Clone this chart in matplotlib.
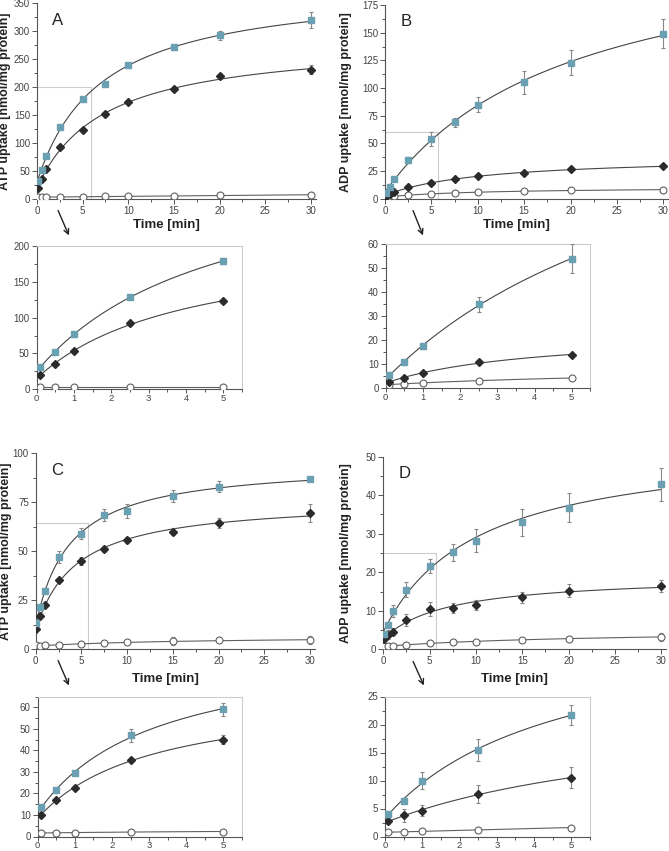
import numpy as np
import matplotlib
matplotlib.use("Agg")
import matplotlib.pyplot as plt
from matplotlib.patches import FancyArrowPatch
from matplotlib.ticker import MultipleLocator

plt.rcParams['font.family'] = ['Liberation Sans', 'DejaVu Sans']

# --- datos ---
t = [0.083, 0.5, 1, 2.5, 5, 7.5, 10, 15, 20, 30]

a_sq = [31, 52, 77, 129, 179, 206, 239, 271, 293, 320]
a_sq_err = [2, 2, 3, 3, 4, 3, 4, 5, 8, 15]
a_di = [20, 36, 53, 92, 123, 151, 173, 197, 219, 231]
a_di_err = [2, 2, 2, 3, 3, 3, 3, 3, 4, 8]
a_ci = [3, 3, 3, 3, 3, 4, 4, 5, 6, 7]
a_ci_err = [0.5] * 10

b_sq = [5.5, 11, 17.5, 35, 54, 69, 85, 105, 123, 149]
b_sq_err = [0.5, 0.5, 1, 3, 6, 4, 7, 10, 11, 13]
b_di = [2.8, 4.5, 6.2, 10.8, 14, 17.5, 20.5, 23, 26.5, 29.5]
b_di_err = [0.3, 0.5, 0.5, 0.5, 0.5, 1, 1, 1, 1, 1]
b_ci = [1.5, 2, 2.2, 3.2, 4.3, 5, 6, 7, 7.5, 8]
b_ci_err = [0.2] * 10

c_sq = [13.5, 21.5, 29.5, 47, 59, 68.5, 70.5, 78, 83, 87]
c_sq_err = [1, 1, 1, 3, 3, 3, 3.5, 3, 3, 1]
c_di = [10, 17, 22.5, 35.5, 45, 51, 55.5, 60, 64.5, 69.5]
c_di_err = [0.5, 0.5, 1, 1, 2, 1.5, 1.5, 2, 2.5, 4.5]
c_ci = [1.8, 1.5, 1.8, 2.2, 2.3, 3, 3.5, 4, 4.5, 4.5]
c_ci_err = [0.3, 0.3, 0.3, 0.3, 0.5, 0.5, 0.5, 2, 1, 2]

d_sq = [4, 6.3, 10, 15.5, 21.7, 25.2, 28.2, 33, 36.8, 42.8]
d_sq_err = [0.5, 0.5, 1.5, 2, 1.8, 2.2, 3, 3.5, 3.8, 4.3]
d_di = [2.7, 3.8, 4.6, 7.6, 10.5, 10.8, 11.5, 13.5, 15.2, 16.5]
d_di_err = [0.5, 1.2, 1, 1.6, 1.9, 1.3, 1.2, 1.5, 1.7, 1.5]
d_ci = [0.8, 0.8, 0.9, 1.2, 1.6, 1.8, 2, 2.5, 2.8, 3.2]
d_ci_err = [0.1, 0.1, 0.1, 0.2, 0.2, 0.3, 0.3, 0.4, 0.5, 1]

AZUL = '#6b9fb2'
NEGRO = '#2b2b2b'
LINEA = '#454545'
GRIS = '#888888'
W, H = 669, 851

fig = plt.figure(figsize=(W / 100, H / 100), dpi=100)


def ejes(x0, y_bot, ancho, alto):
    # posicion en pixeles de la imagen (origen arriba a la izquierda)
    return fig.add_axes([x0 / W, (H - y_bot) / H, ancho / W, alto / H])


def ajuste(x, y, tt):
    # y = a + b*t/(K+t), busqueda de K en una rejilla
    x = np.asarray(x, float)
    y = np.asarray(y, float)
    mejor = None
    for K in np.logspace(-2, 3, 500):
        A = np.column_stack([np.ones_like(x), x / (K + x)])
        coef, *_ = np.linalg.lstsq(A, y, rcond=None)
        err = np.sum((A @ coef - y) ** 2)
        if mejor is None or err < mejor[0]:
            mejor = (err, K, coef)
    _, K, coef = mejor
    return coef[0] + coef[1] * tt / (K + tt)


def series(ax, n, tmax, datos):
    tt = np.linspace(0, tmax, 300)
    for y, e, estilo in datos:
        x = t[:n]
        yy = y[:n]
        ee = e[:n]
        col_l = LINEA if estilo != 'o' else '#606060'
        ax.plot(tt, ajuste(x, yy, tt), color=col_l, lw=0.8, zorder=2)
        ax.errorbar(x, yy, yerr=ee, fmt='none', ecolor=GRIS, elinewidth=0.8,
                    capsize=1.5, capthick=0.8, zorder=3)
        if estilo == 's':
            ax.plot(x, yy, 's', color=AZUL, ms=5, mec=AZUL, zorder=4)
        elif estilo == 'D':
            ax.plot(x, yy, 'D', color=NEGRO, ms=4.2, mec=NEGRO, zorder=4)
        else:
            ax.plot(x, yy, 'o', mfc='white', mec='#606060', ms=5, mew=0.8, zorder=4)


def estilo_ejes(ax, inset=False):
    for lado in ['left', 'bottom']:
        ax.spines[lado].set_color('#555555')
        ax.spines[lado].set_linewidth(0.8)
    if inset:
        for lado in ['top', 'right']:
            ax.spines[lado].set_color('#cccccc')
            ax.spines[lado].set_linewidth(0.8)
    else:
        ax.spines['top'].set_visible(False)
        ax.spines['right'].set_visible(False)
    ax.tick_params(which='both', direction='out', colors='#555555', labelsize=7,
                   labelcolor='#444444', width=0.7, pad=1.5)
    ax.tick_params(which='major', length=3.5)
    ax.tick_params(which='minor', length=2)


def principal(ax, letra, ylab, ymax, ypaso, datos, caja, ylab_x, xlab_y):
    series(ax, 10, 30, datos)
    ax.set_xlim(0, 30.5)
    ax.set_ylim(0, ymax)
    ax.xaxis.set_major_locator(MultipleLocator(5))
    ax.xaxis.set_minor_locator(MultipleLocator(2.5))
    ax.yaxis.set_major_locator(MultipleLocator(ypaso))
    ax.yaxis.set_minor_locator(MultipleLocator(ypaso / 2))
    estilo_ejes(ax)
    ax.plot([0, caja[0], caja[0]], [caja[1], caja[1], 0], color='#cccccc', lw=0.8, zorder=1)
    ax.set_ylabel(ylab, fontsize=9, fontweight='bold', color='#222222')
    ax.yaxis.set_label_coords(ylab_x, 0.5)
    ax.set_xlabel('Time [min]', fontsize=9.5, fontweight='bold', color='#222222')
    ax.xaxis.set_label_coords(0.465, xlab_y)
    ax.text(0.055, 0.89, letra, transform=ax.transAxes, fontsize=12, color='#222222')


def detalle(ax, ymax, ypaso, datos):
    series(ax, 5, 5, datos)
    ax.set_xlim(0, 5.5)
    ax.set_ylim(0, ymax)
    ax.xaxis.set_major_locator(MultipleLocator(1))
    ax.xaxis.set_minor_locator(MultipleLocator(0.5))
    ax.yaxis.set_major_locator(MultipleLocator(ypaso))
    ax.yaxis.set_minor_locator(MultipleLocator(ypaso / 2))
    estilo_ejes(ax, inset=True)
    ax.tick_params(axis='x', pad=0.5, labelsize=6.8)
    ax.tick_params(axis='x', which='major', length=3)


datos_a = [(a_ci, a_ci_err, 'o'), (a_di, a_di_err, 'D'), (a_sq, a_sq_err, 's')]
datos_b = [(b_ci, b_ci_err, 'o'), (b_di, b_di_err, 'D'), (b_sq, b_sq_err, 's')]
datos_c = [(c_ci, c_ci_err, 'o'), (c_di, c_di_err, 'D'), (c_sq, c_sq_err, 's')]
datos_d = [(d_ci, d_ci_err, 'o'), (d_di, d_di_err, 'D'), (d_sq, d_sq_err, 's')]

# paneles principales
axA = ejes(37, 198.7, 278.5, 195.4)
principal(axA, 'A', 'ATP uptake [nmol/mg protein]', 350, 50, datos_a, (5.9, 200), -0.092, -0.105)
axB = ejes(385, 198.7, 283, 193.7)
principal(axB, 'B', 'ADP uptake [nmol/mg protein]', 175, 25, datos_b, (5.75, 60), -0.117, -0.105)
axC = ejes(35.7, 649, 278.8, 195.7)
principal(axC, 'C', 'ATP uptake [nmol/mg protein]', 100, 25, datos_c, (5.76, 64.5), -0.085, -0.122)
axD = ejes(383.3, 649.3, 282.5, 192.6)
principal(axD, 'D', 'ADP uptake [nmol/mg protein]', 50, 10, datos_d, (5.7, 25), -0.11, -0.122)

# ampliaciones
detalle(ejes(36.7, 389.3, 205.3, 143.3), 200, 50, datos_a)
detalle(ejes(385.7, 388.3, 204.6, 144), 60, 10, datos_b)
detalle(ejes(37.7, 836.5, 204.3, 140), 65, 10, datos_c)
detalle(ejes(385, 836.5, 205, 140), 25, 5, datos_d)

# flechas
for (x1, y1, x2, y2) in [(57, 208, 70, 238), (412, 208, 424, 238),
                         (57, 658, 70, 688), (412, 659, 425, 688)]:
    fig.add_artist(FancyArrowPatch((x1 / W, 1 - y1 / H), (x2 / W, 1 - y2 / H),
                                   transform=fig.transFigure, arrowstyle='->',
                                   mutation_scale=9, color='#222222', lw=1.0))

fig.savefig('out.png', dpi=100)
